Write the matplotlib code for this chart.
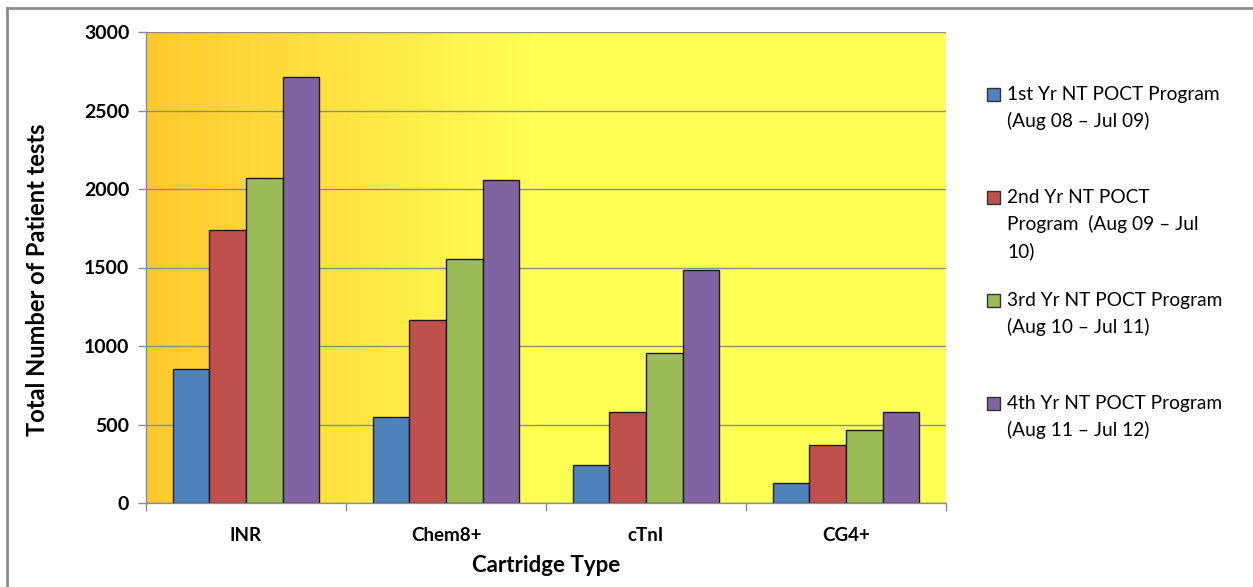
import numpy as np
import matplotlib
matplotlib.use('Agg')
import matplotlib.pyplot as plt
from matplotlib.colors import LinearSegmentedColormap
from matplotlib.patches import Rectangle
from matplotlib.lines import Line2D

plt.rcParams['font.family'] = ['Lato', 'DejaVu Sans']

# cartridge types and yearly test counts
cartridges = ['INR', 'Chem8+', 'cTnI', 'CG4+']
year1 = [853, 548, 240, 125]
year2 = [1739, 1166, 582, 367]
year3 = [2070, 1554, 957, 463]
year4 = [2713, 2057, 1482, 578]
series_labels = ['1st Yr NT POCT Program\n(Aug 08 \u2013 Jul 09)',
                 '2nd Yr NT POCT\nProgram  (Aug 09 \u2013 Jul\n10)',
                 '3rd Yr NT POCT Program\n(Aug 10 \u2013 Jul 11)',
                 '4th Yr NT POCT Program\n(Aug 11 \u2013 Jul 12)']
y_ticks = [0, 500, 1000, 1500, 2000, 2500, 3000]

colors = ['#4F81BD', '#C0504D', '#9BBB59', '#8064A2']
grid_col = '#8C8C8C'

W, H = 1253, 587
fig = plt.figure(figsize=(W / 100, H / 100), dpi=100)
ax = fig.add_axes([146 / W, 1 - 503 / H, 800 / W, 471 / H])

# orange -> yellow background across the plot area
cmap = LinearSegmentedColormap.from_list('bg', [(0, '#FFC92E'), (0.49, '#FFFF55'), (1, '#FFFF55')])
grad = np.linspace(0, 1, 256).reshape(1, -1)
ax.imshow(grad, cmap=cmap, aspect='auto', extent=[0, 1, 0, 1],
          transform=ax.transAxes, zorder=0, interpolation='bicubic')

x = np.arange(len(cartridges))
w = 0.1835
for i, vals in enumerate([year1, year2, year3, year4]):
    ax.bar(x + (i - 1.5) * w, vals, width=w, color=colors[i],
           edgecolor='#1a1a1a', linewidth=1.0, zorder=3)

ax.set_xlim(-0.5, 3.5)
ax.set_ylim(0, 3000)
ax.set_yticks(y_ticks)
ax.set_yticklabels([str(t) for t in y_ticks], fontsize=14, fontweight='bold')
ax.set_xticks(x)
ax.set_xticklabels(cartridges, fontsize=13.5, fontweight='bold')
ax.set_xticks(np.arange(-0.5, 4, 1), minor=True)
ax.tick_params(axis='x', which='major', length=0, pad=17)
ax.tick_params(axis='x', which='minor', length=6, color=grid_col, width=1)
ax.tick_params(axis='y', length=6, color=grid_col, width=1, pad=6)
ax.yaxis.grid(True, color=grid_col, linewidth=1, zorder=1)
ax.set_axisbelow(True)
for s in ['top', 'right']:
    ax.spines[s].set_visible(False)
for s in ['left', 'bottom']:
    ax.spines[s].set_color(grid_col)
    ax.spines[s].set_linewidth(1)
    ax.spines[s].set_zorder(4)

ax.set_xlabel('Cartridge Type', fontsize=16, fontweight='bold', labelpad=8)
fig.text(38 / W, 1 - 280 / H, 'Total Number of Patient tests', rotation=90,
         fontsize=17, fontweight='bold', ha='center', va='center')

# legend drawn by hand so the entries keep their uneven wrapping
legend_y = [87, 190, 293, 396]
for i, lab in enumerate(series_labels):
    top = legend_y[i]
    fig.patches.append(Rectangle((987 / W, 1 - (top + 14) / H), 13 / W, 13 / H,
                                 transform=fig.transFigure, facecolor=colors[i],
                                 edgecolor='#333333', linewidth=1))
    fig.text(1007 / W, 1 - (top - 1) / H, lab, fontsize=13.8, ha='left', va='top',
             linespacing=1.6)

# chart border
fig.add_artist(Line2D([7 / W, 7 / W], [0, 1 - 8 / H], color='#8C8C8C', linewidth=2))
fig.add_artist(Line2D([7 / W, 1], [1 - 8 / H, 1 - 8 / H], color='#8C8C8C', linewidth=2))

fig.savefig('out.png', dpi=100)
